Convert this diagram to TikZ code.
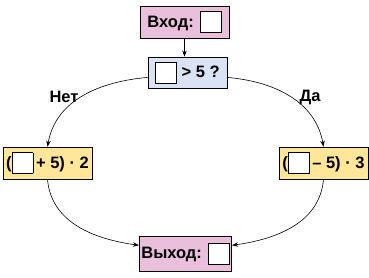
\documentclass[tikz,border=0pt]{standalone}
\usepackage{fontspec}
\setmainfont{Liberation Sans}
\usetikzlibrary{arrows.meta}
\definecolor{inpink}{RGB}{233,191,220}
\definecolor{askblue}{RGB}{218,227,243}
\definecolor{calcyellow}{RGB}{255,230,153}
\newcommand{\slot}{\raisebox{-5pt}{\setlength{\fboxsep}{0pt}\setlength{\fboxrule}{0.8pt}\fcolorbox{black}{white}{\rule{0pt}{20pt}\rule{20pt}{0pt}}}}

\begin{document}
\begin{tikzpicture}[x=1pt, y=1pt,
    font=\fontsize{16.5}{19}\selectfont\bfseries,
    box/.style={draw, line width=0.8pt, minimum height=32, inner sep=2pt},
    flow/.style={-{Stealth[length=6pt,width=4.5pt]}, line width=0.6pt}
]
\useasboundingbox (0,0) rectangle (369,-277);
\node[box, fill=inpink, minimum width=89] (input) at (184.5,-22) {Вход: \slot};
\node[box, fill=askblue, minimum width=79, minimum height=31] (test) at (187.5,-72.5) {\slot\ > 5 ?};
\node[box, fill=calcyellow, minimum width=89] (plus) at (47.5,-163) {(\slot\,+ 5) · 2};
\node[box, fill=calcyellow, minimum width=89] (minus) at (323.5,-163) {(\slot\,– 5) · 3};
\node[box, fill=inpink, minimum width=91, minimum height=35] (output) at (185.5,-253.5) {Выход: \slot};

\draw[flow] (input.south) -- (input.south |- test.north);
\draw[flow] (test.187) to[out=185, in=80] (plus.north);
\draw[flow] (test.-7) to[out=-5, in=100] (minus.north);
\draw[flow] (plus.south) to[out=-85, in=172] (output.170);
\draw[flow] (minus.south) to[out=-95, in=8] (output.10);

\node (no) at (64,-97) {Нет};
\node (yes) at (310,-97) {Да};
\end{tikzpicture}
\end{document}
